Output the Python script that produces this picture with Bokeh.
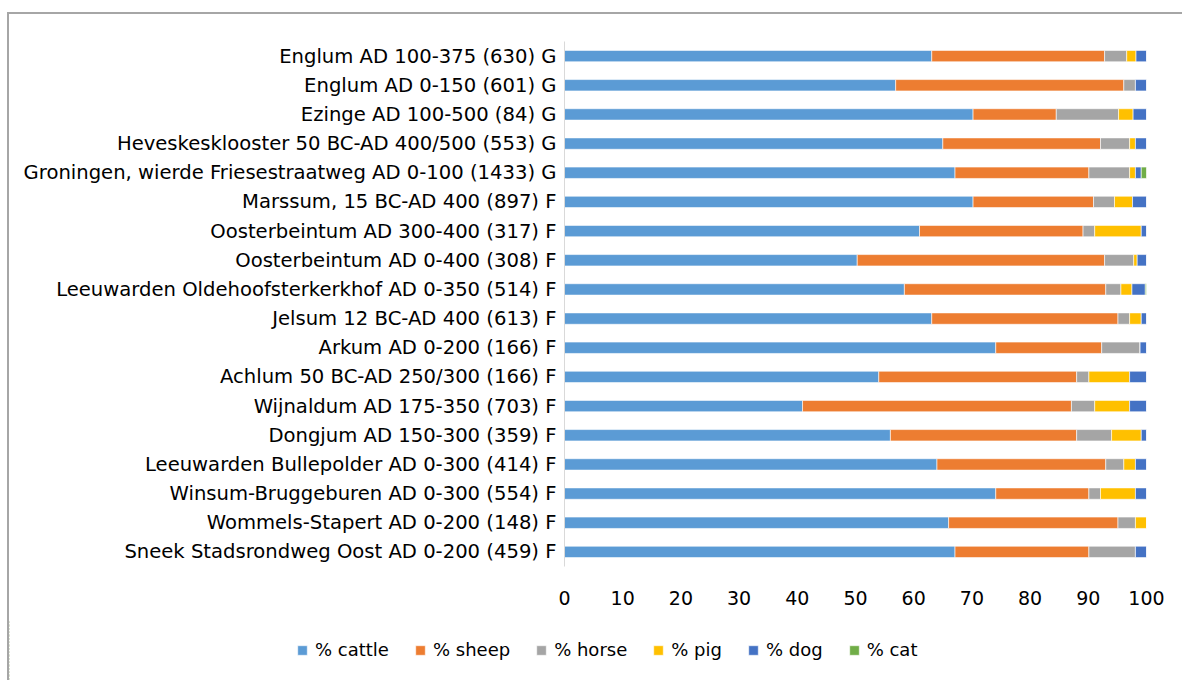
from bokeh.plotting import figure
from bokeh.models import (ColumnDataSource, FactorRange, Range1d, FixedTicker,
                          Legend, LegendItem)
from bokeh.layouts import column, row
from bokeh.embed import file_html
from bokeh.resources import INLINE

# Sites, listed top to bottom
sites = [
    "Englum AD 100-375 (630) G",
    "Englum AD 0-150 (601) G",
    "Ezinge AD 100-500 (84) G",
    "Heveskesklooster 50 BC-AD 400/500 (553) G",
    "Groningen, wierde Friesestraatweg AD 0-100 (1433) G",
    "Marssum, 15 BC-AD 400 (897) F",
    "Oosterbeintum AD 300-400 (317) F",
    "Oosterbeintum AD 0-400 (308) F",
    "Leeuwarden Oldehoofsterkerkhof AD 0-350 (514) F",
    "Jelsum 12 BC-AD 400 (613) F",
    "Arkum AD 0-200 (166) F",
    "Achlum 50 BC-AD 250/300 (166) F",
    "Wijnaldum AD 175-350 (703) F",
    "Dongjum AD 150-300 (359) F",
    "Leeuwarden Bullepolder AD 0-300 (414) F",
    "Winsum-Bruggeburen AD 0-300 (554) F",
    "Wommels-Stapert AD 0-200 (148) F",
    "Sneek Stadsrondweg Oost AD 0-200 (459) F",
]

# Percentage of identified bones per species
cattle = [63.1, 56.9, 70.2, 65.0, 67.1, 70.2, 61.0, 50.3, 58.4, 63.1, 74.1, 54.0, 40.9, 56.0, 64.0, 74.1, 66.0, 67.1]
sheep  = [29.7, 39.2, 14.3, 27.1, 23.0, 20.7, 28.1, 42.5, 34.6, 32.0, 18.2, 34.0, 46.2, 32.0, 29.0, 16.0, 29.1, 23.0]
horse  = [3.8, 2.0, 10.7, 5.0, 7.0, 3.6, 2.0, 5.0, 2.6, 2.0, 6.6, 2.1, 4.0, 6.0, 3.1, 2.0, 3.0, 8.0]
pig    = [1.6, 0.0, 2.5, 1.0, 1.0, 3.1, 8.0, 0.6, 1.9, 2.0, 0.0, 7.0, 6.0, 5.1, 2.0, 6.0, 1.9, 0.0]
dog    = [1.8, 1.9, 2.3, 1.9, 1.0, 2.4, 0.9, 1.6, 2.3, 0.9, 1.1, 2.9, 2.9, 0.9, 1.9, 1.9, 0.0, 1.9]
cat    = [0.0, 0.0, 0.0, 0.0, 0.9, 0.0, 0.0, 0.0, 0.2, 0.0, 0.0, 0.0, 0.0, 0.0, 0.0, 0.0, 0.0, 0.0]

series_keys = ["cattle", "sheep", "horse", "pig", "dog", "cat"]
series_labels = ["% cattle", "% sheep", "% horse", "% pig", "% dog", "% cat"]
series_colors = ["#5B9BD5", "#ED7D31", "#A5A5A5", "#FFC000", "#4472C4", "#70AD47"]
x_ticks = [0, 10, 20, 30, 40, 50, 60, 70, 80, 90, 100]

FONT = "DejaVu Sans"

source = ColumnDataSource(data=dict(site=sites, cattle=cattle, sheep=sheep,
                                    horse=horse, pig=pig, dog=dog, cat=cat))

# --- main stacked bar chart ---
p = figure(
    width=1173, height=606,
    y_range=FactorRange(factors=sites[::-1], range_padding=0),
    x_range=Range1d(0, 100),
    output_backend="svg", toolbar_location=None,
    min_border_left=555, min_border_right=36,
    min_border_top=27, min_border_bottom=54,
)
p.outline_line_color = None
p.background_fill_color = "white"
p.border_fill_color = "white"
p.xgrid.visible = False
p.ygrid.visible = False

p.hbar_stack(series_keys, y="site", height=0.39, source=source,
             fill_color=series_colors, line_color="white", line_width=0.6)

# category axis
p.yaxis.axis_line_color = "#D9D9D9"
p.yaxis.axis_line_width = 1
p.yaxis.major_tick_line_color = None
p.yaxis.minor_tick_line_color = None
p.yaxis.major_tick_out = 0
p.yaxis.major_tick_in = 0
p.yaxis.major_label_standoff = 8
p.yaxis.major_label_text_font = FONT
p.yaxis.major_label_text_font_size = "19.6px"
p.yaxis.major_label_text_color = "#000000"

# value axis
p.xaxis.ticker = FixedTicker(ticks=x_ticks)
p.xaxis.axis_line_color = None
p.xaxis.major_tick_line_color = None
p.xaxis.minor_tick_line_color = None
p.xaxis.major_tick_out = 0
p.xaxis.major_tick_in = 0
p.xaxis.major_label_standoff = 24
p.xaxis.major_label_text_font = FONT
p.xaxis.major_label_text_font_size = "19px"
p.xaxis.major_label_text_color = "#000000"

# --- legend strip, centred under the whole chart ---
# The same stacks are drawn here outside the visible x range, so only
# the legend swatches show.
q = figure(width=1173, height=60, output_backend="svg", toolbar_location=None,
           x_axis_type=None, y_axis_type=None, min_border=0,
           y_range=FactorRange(factors=sites[::-1]), x_range=Range1d(200, 300))
q.outline_line_color = None
q.grid.visible = False
q.background_fill_alpha = 0
q.border_fill_alpha = 0

swatches = q.hbar_stack(series_keys, y="site", height=0.39, source=source,
                        fill_color=series_colors, line_color="white",
                        line_width=0.6)

legend = Legend(
    items=[LegendItem(label=lab, renderers=[r]) for lab, r in zip(series_labels, swatches)],
    orientation="horizontal",
    location=(287, 20),
    glyph_width=12, glyph_height=12,
    label_standoff=7, spacing=25,
    padding=0, margin=0,
    border_line_color=None, background_fill_alpha=0,
    label_text_font=FONT, label_text_font_size="18px",
    label_text_color="#000000",
)
q.add_layout(legend)

layout = column(p, row(q), spacing=0, margin=(12, 0, 0, 7),
                styles={"border-top": "2px solid #A6A6A6",
                        "border-left": "2px solid #A6A6A6",
                        "background-color": "white"})

open("out.html", "w").write(file_html(layout, INLINE))
